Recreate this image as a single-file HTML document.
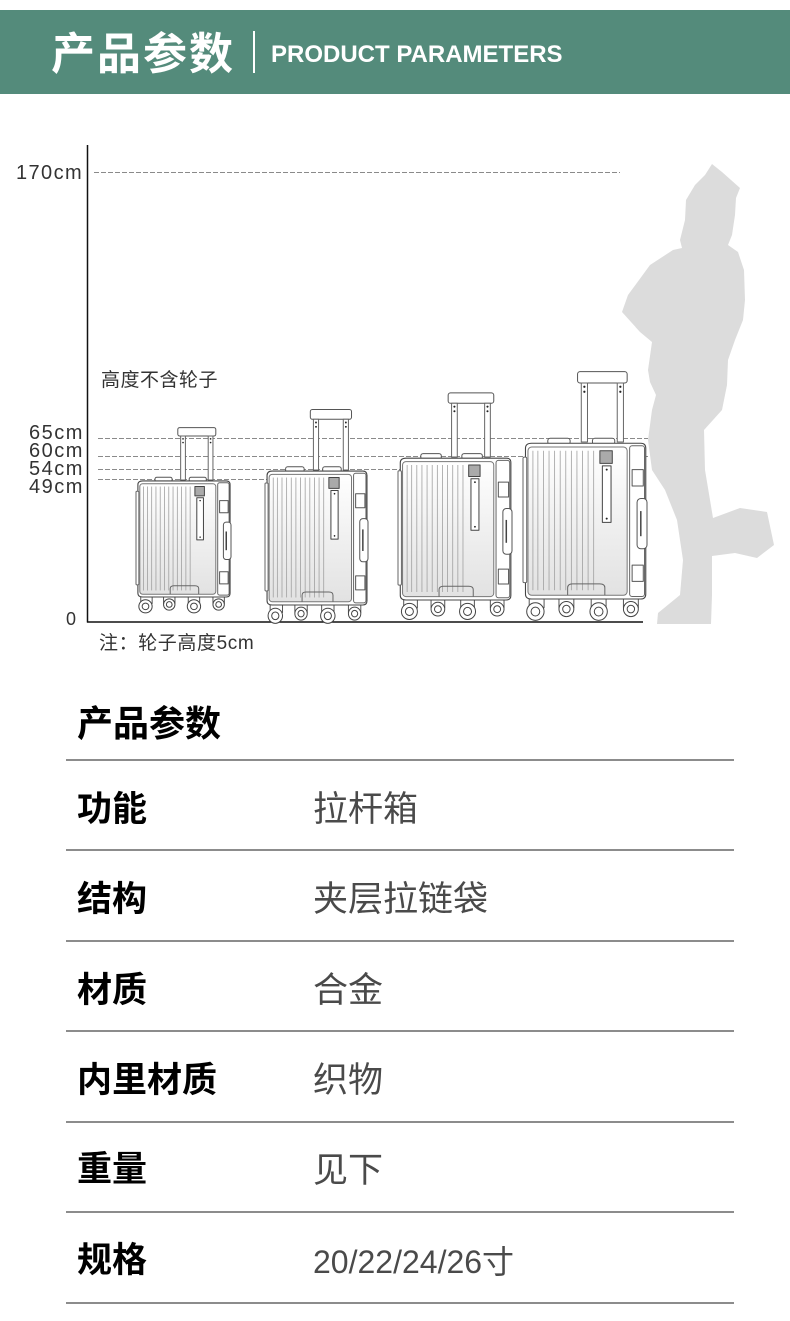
<!DOCTYPE html>
<html><head><meta charset="utf-8"><style>
html,body{margin:0;padding:0;background:#fff;}
body{width:790px;height:1321px;overflow:hidden;position:relative;}
svg{position:absolute;left:0;top:0;}
</style></head><body>
<svg width="790" height="1321" viewBox="0 0 790 1321" xmlns="http://www.w3.org/2000/svg">
<defs>
<linearGradient id="shade" x1="0" y1="0" x2="0" y2="1">
<stop offset="0" stop-color="#ffffff"/><stop offset="0.5" stop-color="#f0f0f0"/><stop offset="1" stop-color="#e2e2e2"/>
</linearGradient>
<g id="sc" stroke-linejoin="round">
<rect x="44" y="-56" width="40" height="9" rx="2" fill="#fff" stroke="#555" stroke-width="1" vector-effect="non-scaling-stroke"/>
<rect x="47" y="-47" width="5" height="47" fill="#fff" stroke="#666" stroke-width="1" vector-effect="non-scaling-stroke"/>
<rect x="76" y="-47" width="5" height="47" fill="#fff" stroke="#666" stroke-width="1" vector-effect="non-scaling-stroke"/>
<circle cx="49.5" cy="-44" r="0.9" fill="#222"/><circle cx="78.5" cy="-44" r="0.9" fill="#222"/>
<circle cx="49.5" cy="-40" r="0.9" fill="#222"/><circle cx="78.5" cy="-40" r="0.9" fill="#222"/>
<rect x="20" y="-3" width="18" height="5" rx="2" fill="#fff" stroke="#555" stroke-width="1" vector-effect="non-scaling-stroke"/>
<rect x="56" y="-3" width="18" height="5" rx="2" fill="#fff" stroke="#555" stroke-width="1" vector-effect="non-scaling-stroke"/>
<rect x="5" y="122" width="12" height="10" fill="#fff" stroke="#555" stroke-width="1" vector-effect="non-scaling-stroke"/>
<rect x="29" y="122" width="12" height="10" fill="#fff" stroke="#555" stroke-width="1" vector-effect="non-scaling-stroke"/>
<rect x="55" y="122" width="12" height="10" fill="#fff" stroke="#555" stroke-width="1" vector-effect="non-scaling-stroke"/>
<rect x="81" y="122" width="12" height="10" fill="#fff" stroke="#555" stroke-width="1" vector-effect="non-scaling-stroke"/>
<path d="M2,5 Q2,1 7,1 H95 Q99,1 99,5 V121 Q99,125 95,125 H7 Q2,125 2,121 Z" fill="#fff" stroke="#444" stroke-width="1.1" vector-effect="non-scaling-stroke"/>
<rect x="0" y="12" width="3" height="100" rx="1" fill="#fff" stroke="#666" stroke-width="1" vector-effect="non-scaling-stroke"/>
<rect x="4" y="4" width="80" height="118" rx="3" fill="url(#shade)" stroke="#777" stroke-width="1" vector-effect="non-scaling-stroke"/>
<g stroke="#a0a0a0" stroke-width="0.8">
<line x1="8" y1="7" x2="8" y2="118" vector-effect="non-scaling-stroke"/>
<line x1="12" y1="7" x2="12" y2="118" vector-effect="non-scaling-stroke"/>
<line x1="16.5" y1="7" x2="16.5" y2="118" vector-effect="non-scaling-stroke"/>
<line x1="21" y1="7" x2="21" y2="118" vector-effect="non-scaling-stroke"/>
<line x1="25.5" y1="7" x2="25.5" y2="118" vector-effect="non-scaling-stroke"/>
<line x1="30" y1="7" x2="30" y2="118" vector-effect="non-scaling-stroke"/>
<line x1="34.5" y1="7" x2="34.5" y2="118" vector-effect="non-scaling-stroke"/>
<line x1="39" y1="7" x2="39" y2="118" vector-effect="non-scaling-stroke"/>
<line x1="43.5" y1="7" x2="43.5" y2="118" vector-effect="non-scaling-stroke"/>
<line x1="48" y1="7" x2="48" y2="118" vector-effect="non-scaling-stroke"/>
<line x1="52.5" y1="7" x2="52.5" y2="118" vector-effect="non-scaling-stroke"/>
<line x1="57" y1="7" x2="57" y2="118" vector-effect="non-scaling-stroke"/>
</g>
<rect x="62" y="7" width="10" height="10" fill="#aaa" stroke="#444" stroke-width="1" vector-effect="non-scaling-stroke"/>
<rect x="64" y="19" width="7" height="45" fill="#fff" stroke="#444" stroke-width="1" vector-effect="non-scaling-stroke"/>
<circle cx="67.5" cy="22" r="0.8" fill="#222"/><circle cx="67.5" cy="61" r="0.8" fill="#222"/>
<path d="M36,122 V116 Q36,113 40,113 H62 Q66,113 66,116 V122" fill="none" stroke="#666" stroke-width="1" vector-effect="non-scaling-stroke"/>
<rect x="86" y="3" width="12" height="120" rx="2" fill="#fff" stroke="#666" stroke-width="1" vector-effect="non-scaling-stroke"/>
<rect x="88" y="22" width="9" height="13" fill="#fff" stroke="#555" stroke-width="1" vector-effect="non-scaling-stroke"/>
<rect x="88" y="98" width="9" height="13" fill="#fff" stroke="#555" stroke-width="1" vector-effect="non-scaling-stroke"/>
<rect x="92" y="45" width="8" height="40" rx="3" fill="#fff" stroke="#555" stroke-width="1" vector-effect="non-scaling-stroke"/>
<line x1="95" y1="55" x2="95" y2="75" stroke="#444" stroke-width="1.5" vector-effect="non-scaling-stroke"/>
<g fill="#fff" stroke="#444" stroke-width="1">
<circle cx="10" cy="135" r="7" vector-effect="non-scaling-stroke"/>
<circle cx="35" cy="133" r="6" vector-effect="non-scaling-stroke"/>
<circle cx="61" cy="135" r="7" vector-effect="non-scaling-stroke"/>
<circle cx="87" cy="133" r="6" vector-effect="non-scaling-stroke"/>
<circle cx="10" cy="135" r="3.5" vector-effect="non-scaling-stroke"/>
<circle cx="35" cy="133" r="3" vector-effect="non-scaling-stroke"/>
<circle cx="61" cy="135" r="3.5" vector-effect="non-scaling-stroke"/>
<circle cx="87" cy="133" r="3" vector-effect="non-scaling-stroke"/>
</g>
</g>
</defs>

<rect x="0" y="10" width="790" height="84" fill="#548b7b"/>
<text x="51" y="69" font-family="'Noto Sans CJK SC','WenQuanYi Zen Hei',sans-serif" font-weight="bold" font-size="44" fill="#fff" letter-spacing="2">产品参数</text>
<rect x="253" y="31" width="2" height="42" fill="#fff"/>
<text x="271" y="62" font-family="'Liberation Sans',sans-serif" font-weight="bold" font-size="24" fill="#fff">PRODUCT PARAMETERS</text>

<path d="M712,164 L722,172 L740,188 L736,198 L735,215 L732,235 L728,245 L738,252 L744,270 L745,300 L743,320 L735,340 L728,360 L727,385 L722,410 L704,430 L705,470 L713,518 L740,508 L767,512 L774,545 L757,558 L735,553 L712,556 L712,595 L711,624 L657,624 L658,613 L680,595 L683,560 L677,520 L665,490 L652,470 L648,440 L652,410 L656,395 L650,382 L648,370 L652,342 L640,332 L622,312 L628,295 L650,265 L673,250 L682,248 L680,240 L685,220 L686,200 L695,185 L705,175 Z" fill="#dcdcdc"/>

<line x1="87.5" y1="145" x2="87.5" y2="622.5" stroke="#111" stroke-width="1.5"/>
<line x1="87" y1="622" x2="643" y2="622" stroke="#111" stroke-width="1.5"/>

<g stroke="#8a8a8a" stroke-width="1" stroke-dasharray="5 2" fill="none">
<line x1="94" y1="172.5" x2="620" y2="172.5"/>
<line x1="98" y1="438.5" x2="648" y2="438.5"/>
<line x1="98" y1="456.5" x2="648" y2="456.5"/>
<line x1="98" y1="469.5" x2="420" y2="469.5"/>
<line x1="98" y1="479.5" x2="300" y2="479.5"/>
</g>

<g font-family="'Liberation Sans','Noto Sans CJK SC',sans-serif" fill="#333">
<text x="16" y="179" font-size="20" letter-spacing="1.4">170cm</text>
<text x="29" y="439" font-size="20" letter-spacing="1.5">65cm</text>
<text x="29" y="457" font-size="20" letter-spacing="1.5">60cm</text>
<text x="29" y="475" font-size="20" letter-spacing="1.5">54cm</text>
<text x="29" y="493" font-size="20" letter-spacing="1.5">49cm</text>
<text x="66" y="625" font-size="18">0</text>
<text x="101" y="386" font-size="19" letter-spacing="0.5">高度不含轮子</text>
<text x="99" y="649" font-size="19" letter-spacing="0.6">注：轮子高度5cm</text>
</g>

<use href="#sc" transform="translate(136 480) scale(0.95 0.936)"/>
<use href="#sc" transform="translate(265 470) scale(1.03 1.08)"/>
<use href="#sc" transform="translate(398 457) scale(1.14 1.144)"/>
<use href="#sc" transform="translate(523 442) scale(1.24 1.256)"/>

<text x="77" y="736" font-family="'Noto Sans CJK SC',sans-serif" font-weight="bold" font-size="36" fill="#000">产品参数</text>
<g fill="#8c8c8c">
<rect x="66" y="759" width="668" height="2"/>
<rect x="66" y="849" width="668" height="2"/>
<rect x="66" y="940" width="668" height="2"/>
<rect x="66" y="1030" width="668" height="2"/>
<rect x="66" y="1121" width="668" height="2"/>
<rect x="66" y="1211" width="668" height="2"/>
<rect x="66" y="1302" width="668" height="2"/>
</g>
<g font-family="'Noto Sans CJK SC',sans-serif" font-weight="bold" font-size="35" fill="#000">
<text x="77" y="821">功能</text>
<text x="77" y="911">结构</text>
<text x="77" y="1002">材质</text>
<text x="77" y="1092">内里材质</text>
<text x="77" y="1181">重量</text>
<text x="77" y="1272">规格</text>
</g>
<g font-family="'Liberation Sans','Noto Sans CJK SC',sans-serif" font-size="35" fill="#4a4a4a">
<text x="313" y="821">拉杆箱</text>
<text x="313" y="911">夹层拉链袋</text>
<text x="313" y="1002">合金</text>
<text x="313" y="1092">织物</text>
<text x="313" y="1182">见下</text>
<text x="313" y="1273" font-size="32">20/22/24/26寸</text>
</g>
</svg>
</body></html>
